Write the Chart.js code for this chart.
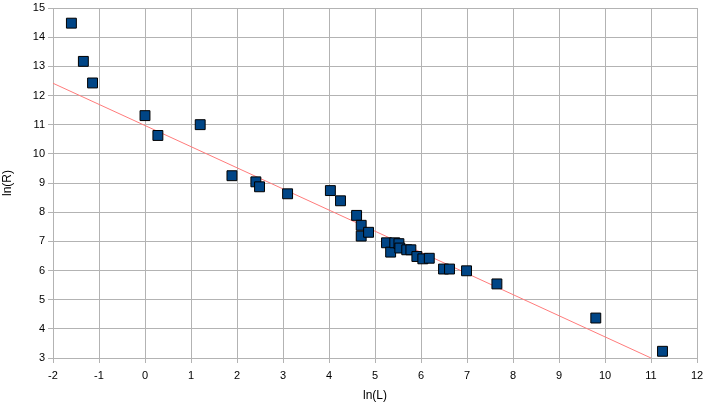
<!DOCTYPE html>
<html>
<head>
<meta charset="utf-8">
<script src="https://cdn.jsdelivr.net/npm/chart.js@4/dist/chart.umd.min.js"></script>
<style>
  html, body { margin: 0; padding: 0; background: #fff; }
  #wrap { width: 705px; height: 407px; }
</style>
</head>
<body>
<div id="wrap"><canvas id="chart" width="705" height="407"></canvas></div>
<script>
// values
const lnL = [-1.6, -1.34, -1.14, 0.0, 0.28, 1.2, 1.89, 2.41, 2.49, 3.1, 4.03, 4.25, 4.6, 4.7, 4.7, 4.86,
  5.25, 5.34, 5.43, 5.52, 5.54, 5.69, 5.78, 5.91, 6.04, 6.18, 6.49, 6.62, 6.99, 7.65, 9.8, 11.25];
const lnR = [14.48, 13.17, 12.43, 11.31, 10.63, 11.0, 9.25, 9.04, 8.87, 8.63, 8.74, 8.39, 7.89, 7.55, 7.18, 7.31,
  6.95, 6.63, 6.95, 6.92, 6.77, 6.71, 6.71, 6.48, 6.4, 6.42, 6.05, 6.05, 5.99, 5.54, 4.37, 3.23];

// trend line end points
const trendX = [-2, 11];
const trendY = [12.42, 3.0];

const points = lnL.map((x, i) => ({ x: x, y: lnR[i] }));
const trend = trendX.map((x, i) => ({ x: x, y: trendY[i] }));

const font = { family: "'Liberation Sans', Arial, sans-serif", size: 11 };
const gridColor = "#b3b3b3";

new Chart(document.getElementById("chart").getContext("2d"), {
  type: "scatter",
  data: {
    datasets: [
      {
        label: "trend",
        type: "line",
        data: trend,
        borderColor: "#ff7b7b",
        borderWidth: 1,
        pointRadius: 0,
        fill: false,
        order: 2,
      },
      {
        label: "ln(R)",
        data: points,
        pointStyle: "rect",
        pointRadius: 7,
        pointHoverRadius: 7,
        backgroundColor: "#004586",
        borderColor: "#000000",
        borderWidth: 1,
        order: 1,
      },
    ],
  },
  options: {
    responsive: false,
    animation: false,
    layout: { padding: { top: 7, right: 6, left: 0, bottom: 0 } },
    plugins: {
      legend: { display: false },
      tooltip: { enabled: false },
    },
    scales: {
      x: {
        type: "linear",
        min: -2,
        max: 12,
        ticks: { stepSize: 1, color: "#000", font: font, padding: 6, maxRotation: 0 },
        grid: { color: gridColor, tickLength: 5, tickColor: gridColor },
        border: { color: gridColor },
        title: { display: true, text: "ln(L)", color: "#000", font: { family: font.family, size: 12 }, padding: { top: 4, bottom: 4 } },
        afterFit: (s) => { s.height = 49; s.paddingLeft = 0; s.paddingRight = 0; },
      },
      y: {
        type: "linear",
        min: 3,
        max: 15,
        ticks: { stepSize: 1, color: "#000", font: font, padding: 3 },
        grid: { color: gridColor, tickLength: 5, tickColor: gridColor },
        border: { color: gridColor },
        title: { display: true, text: "ln(R)", color: "#000", font: { family: font.family, size: 12 }, padding: { top: 0, bottom: 4 } },
        afterFit: (s) => { s.width = 53; s.paddingTop = 0; s.paddingBottom = 0; },
      },
    },
  },
});
</script>
</body>
</html>
